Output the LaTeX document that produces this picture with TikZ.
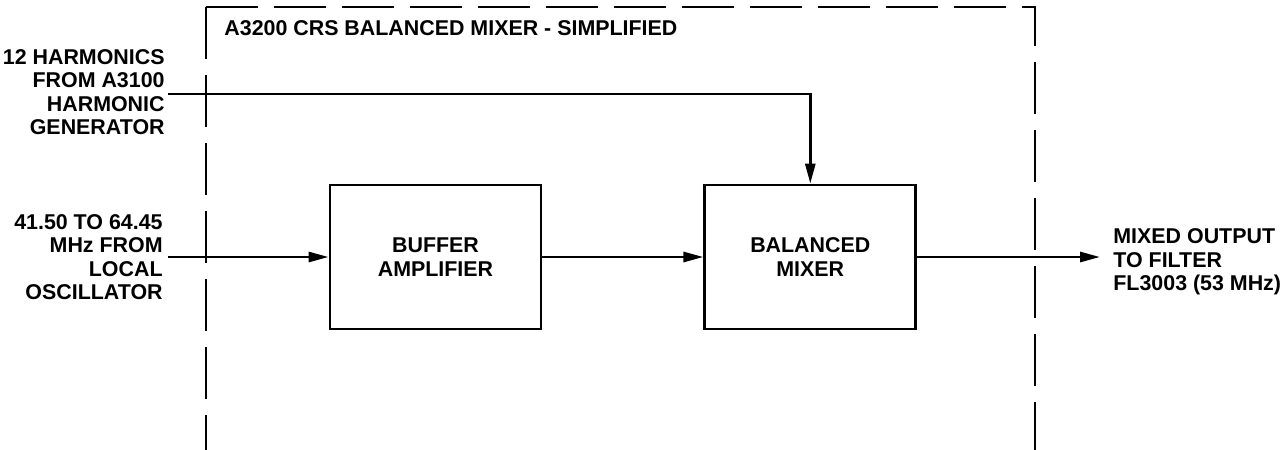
\documentclass[tikz,border=0pt]{standalone}
\usepackage{fontspec}
\setmainfont{Liberation Sans}
\usetikzlibrary{arrows.meta, positioning}

\begin{document}
\begin{tikzpicture}[x=0.5pt, y=-0.5pt]
      \tikzset{
  block/.style={
    rectangle, draw, line width=1.4pt, align=center,
    minimum width=105.5pt, minimum height=72pt,
    font=\bfseries\fontsize{10.7}{11.7}\selectfont, inner sep=0pt
  },
  arrow/.style={-{Triangle[length=10pt, width=5pt]}, line width=1.4pt},
  frame/.style={line width=1.4pt, dash pattern=on 26pt off 8pt},
  sigtext/.style={font=\bfseries\fontsize{10.7}{11.7}\selectfont, inner sep=0pt},
}
\useasboundingbox (0,0) rectangle (1281,450);

%% ---- ENCLOSURE ----
\coordinate (corner) at (206,7);
\coordinate (bl)     at (206,450);
\coordinate (tr)     at (1035,7);
\coordinate (br)     at (1035,450);
\draw[frame] (corner) -- (bl);
\draw[frame] (corner) -- (tr) -- (br);
\node[sigtext, anchor=west] (title) at (224,28) {A3200 CRS BALANCED MIXER - SIMPLIFIED};

%% ---- BLOCKS ----
\node[block] (buffer) at (435.5,257) {BUFFER\\AMPLIFIER};
\node[block, right=80.5pt of buffer] (mixer) {BALANCED\\MIXER};

%% ---- INPUTS ----
\node[sigtext, align=right, anchor=east] (harmlbl) at (165,92)
  {12 HARMONICS\\FROM A3100\\HARMONIC\\GENERATOR};
\node[sigtext, align=right, anchor=east] (lolbl) at (163,257)
  {41.50 TO 64.45\\MHz FROM\\LOCAL\\OSCILLATOR};
\coordinate (harmin) at (168,94);
\coordinate (loin)   at (168,257);

\draw[arrow] (harmin) -| (mixer.north);
\draw[arrow] (loin) -- (buffer.west);
\draw[arrow] (buffer.east) -- (mixer.west);

%% ---- OUTPUT ----
\coordinate (mixout) at (1100,257);
\draw[arrow] (mixer.east) -- (mixout);
\node[sigtext, align=left, anchor=west] (outlbl) at (1113,262)
  {MIXED OUTPUT\\TO FILTER\\FL3003 (53 MHz)};

    \end{tikzpicture}
\end{document}
